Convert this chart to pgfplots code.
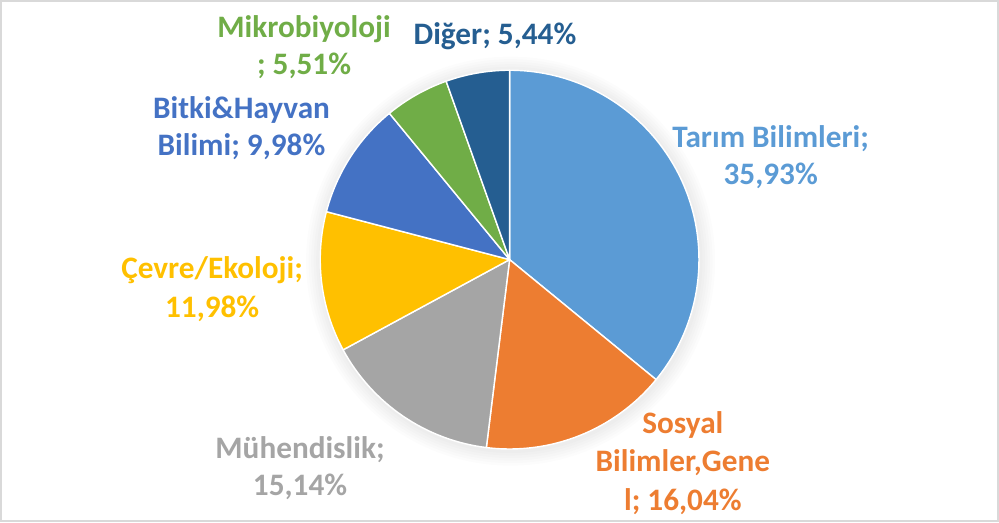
\documentclass[border=0pt]{standalone}
\usepackage{pgfplots}
\usepackage{pgfplotstable}
\pgfplotsset{compat=1.18}
\usepackage{fontspec}
\setmainfont{Carlito}

% office palette, slice order clockwise from 12 o'clock
\definecolor{c0}{HTML}{5B9BD5}
\definecolor{c1}{HTML}{ED7D31}
\definecolor{c2}{HTML}{A5A5A5}
\definecolor{c3}{HTML}{FFC000}
\definecolor{c4}{HTML}{4472C4}
\definecolor{c5}{HTML}{70AD47}
\definecolor{c6}{HTML}{255E91}
\definecolor{frameclr}{RGB}{217,217,217}

\pgfplotstableread{
label pct
Tarim 35.93
Sosyal 16.04
Muhendislik 15.14
Cevre 11.98
Bitki 9.98
Mikro 5.51
Diger 5.44
}\piedata

\tikzset{lbl/.style={anchor=base,inner sep=0pt,
  font=\bfseries\fontsize{17.6}{21}\selectfont}}

\begin{document}
\begin{tikzpicture}
% start/end angles of the slices from the table
\def\total{0}%
\pgfplotsforeachungrouped \i in {0,...,6}{%
  \pgfplotstablegetelem{\i}{pct}\of\piedata
  \pgfmathsetmacro\total{\total+\pgfplotsretval}%
}%
\def\cum{0}%
\pgfplotsforeachungrouped \i in {0,...,6}{%
  \pgfplotstablegetelem{\i}{pct}\of\piedata
  \pgfmathsetmacro\sa{90-360*(\cum/\total)}%
  \pgfmathsetmacro\cum{\cum+\pgfplotsretval}%
  \pgfmathsetmacro\ea{90-360*(\cum/\total)}%
  \expandafter\xdef\csname sa\i\endcsname{\sa}%
  \expandafter\xdef\csname ea\i\endcsname{\ea}%
}%
\begin{axis}[
  scale only axis, width=19.98cm, height=10.4cm,
  xmin=0, xmax=999, ymin=0, ymax=520,
  hide axis, clip=false,
]
\draw[frameclr, line width=1.2pt] (axis cs:6,3) rectangle (axis cs:993,518);
% soft glow round the pie
\pgfplotsinvokeforeach{4.05,4.0,3.95,3.9,3.85,3.8}{
  \fill[black, opacity=0.012] (axis cs:510.5,260.5) circle[radius=#1cm];
}
\pgfplotsinvokeforeach{0,...,6}{
  \fill[fill=c#1, draw=white, line width=0.8pt, line join=round]
    (axis cs:509.5,262) -- ++(\csname sa#1\endcsname:3.75cm)
    arc[start angle=\csname sa#1\endcsname, end angle=\csname ea#1\endcsname, radius=3.75cm]
    -- cycle;
}
% data labels
\node[lbl, text=c0] at (axis cs:768,373) {Tarım Bilimleri;};
\node[lbl, text=c0] at (axis cs:768,336) {35,93\%};
\node[lbl, text=c1] at (axis cs:681,90) {Sosyal};
\node[lbl, text=c1] at (axis cs:681,52) {Bilimler,Gene};
\node[lbl, text=c1] at (axis cs:681,14) {l; 16,04\%};
\node[lbl, text=c2] at (axis cs:302,65) {Mühendislik;};
\node[lbl, text=c2] at (axis cs:302,28) {15,14\%};
\node[lbl, text=c3] at (axis cs:215,243) {Çevre/Ekoloji;};
\node[lbl, text=c3] at (axis cs:215,205) {11,98\%};
\node[lbl, text=c4] at (axis cs:244,402) {Bitki\&Hayvan};
\node[lbl, text=c4] at (axis cs:244,365) {Bilimi; 9,98\%};
\node[lbl, text=c5] at (axis cs:306,482) {Mikrobiyoloji};
\node[lbl, text=c5] at (axis cs:306,445) {; 5,51\%};
\node[lbl, text=c6] at (axis cs:495,475) {Diğer; 5,44\%};
\end{axis}
\end{tikzpicture}
\end{document}
